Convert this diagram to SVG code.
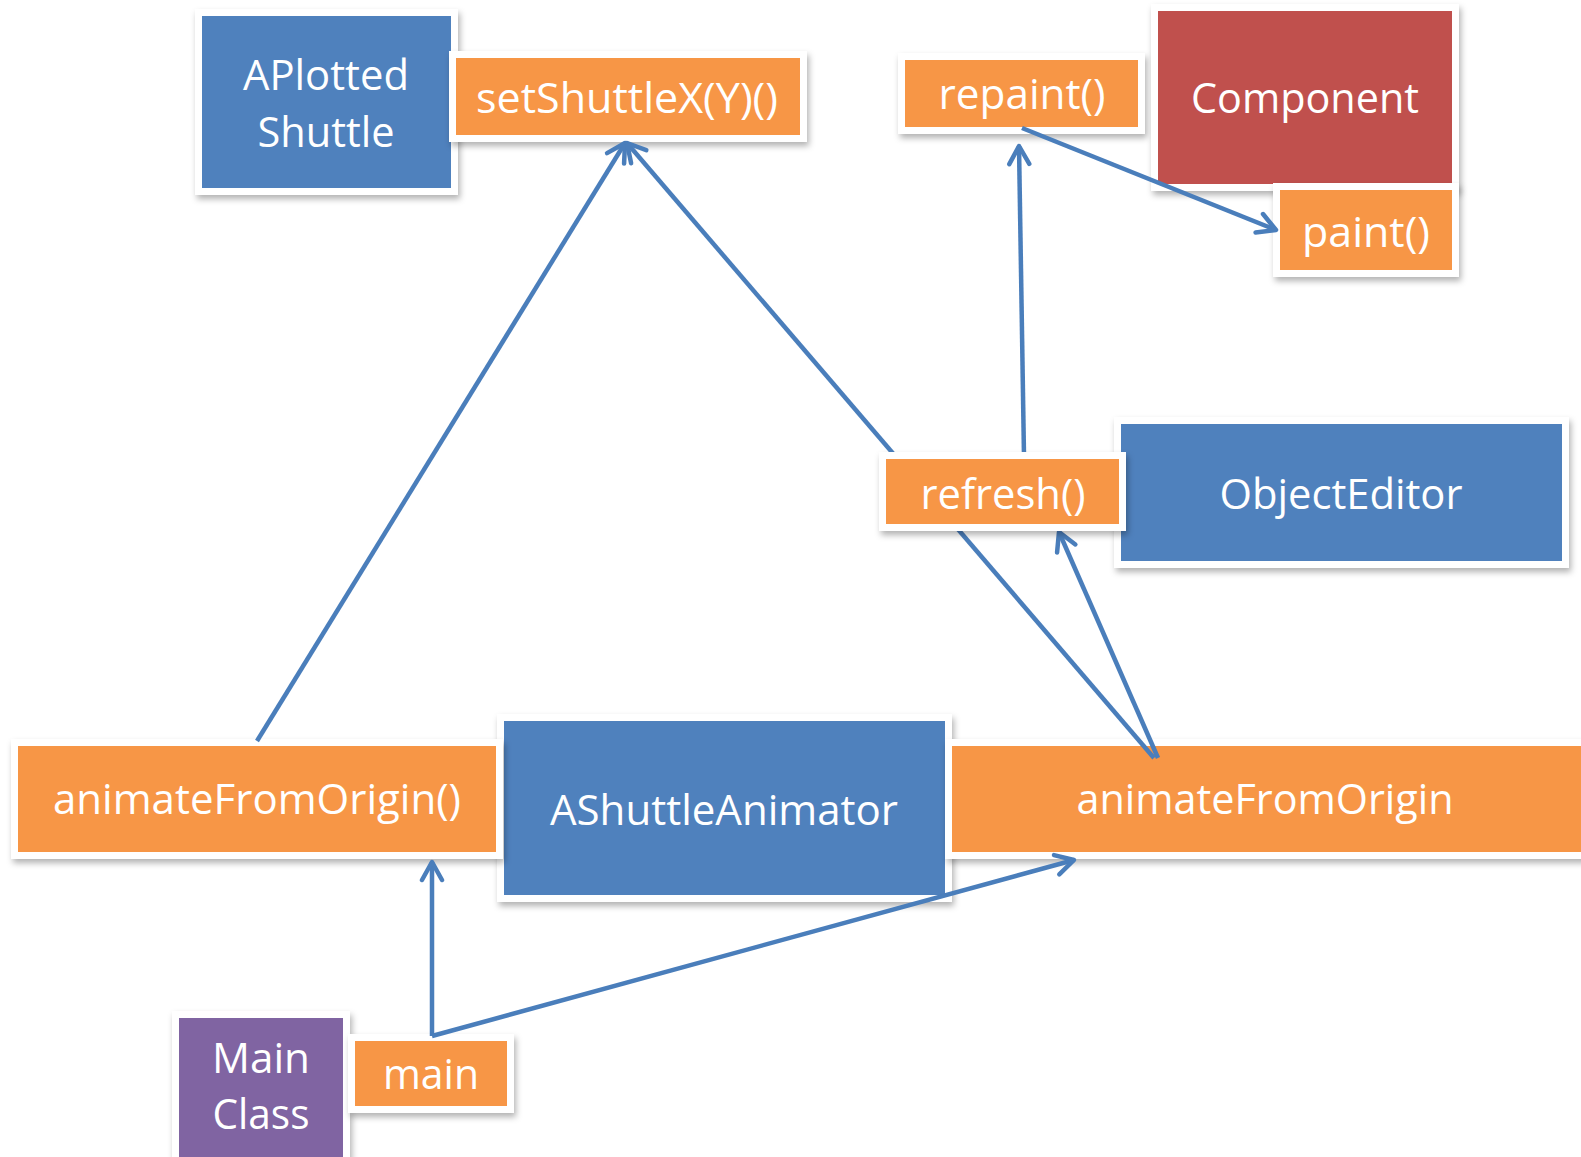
<svg xmlns="http://www.w3.org/2000/svg" width="1581" height="1157" viewBox="0 0 1581 1157">
<defs>
<filter id="sh" x="-10%" y="-10%" width="130%" height="140%">
<feDropShadow dx="2" dy="4" stdDeviation="3" flood-color="#000" flood-opacity="0.3"/>
</filter>
<marker id="arr" markerUnits="userSpaceOnUse" markerWidth="30" markerHeight="30" refX="24" refY="13" orient="auto">
<path d="M6,3 L24,13 L6,23" fill="none" stroke="#4A7EBB" stroke-width="4.5" stroke-linecap="round" stroke-linejoin="round"/>
</marker>
</defs>
<style>
.frame{fill:#fff;filter:url(#sh)}
.blue{fill:#4F81BD}
.orange{fill:#F79646}
.red{fill:#C0504D}
.purple{fill:#8064A2}
text{font-family:"Open Sans","Noto Sans",sans-serif;font-size:42px;fill:#fff;text-anchor:middle}
.c{stroke:#4A7EBB;stroke-width:4.5;fill:none}
</style>
<rect width="1581" height="1157" fill="#fff"/>
<g id="nodes">
<g id="aplotted">
<rect class="frame" x="195" y="9" width="263" height="186"/>
<rect class="blue" x="202" y="16" width="249" height="172"/>
<text x="326" y="90" textLength="166" lengthAdjust="spacingAndGlyphs">APlotted</text>
<text x="326" y="147" textLength="137" lengthAdjust="spacingAndGlyphs">Shuttle</text>
</g>
<g id="setshuttle">
<rect class="frame" x="449" y="51" width="358" height="91"/>
<rect class="orange" x="456" y="58" width="344" height="77"/>
<text x="627" y="113" textLength="302" lengthAdjust="spacingAndGlyphs">setShuttleX(Y)()</text>
</g>
<g id="repaint">
<rect class="frame" x="898" y="53" width="247" height="81"/>
<rect class="orange" x="905" y="60" width="233" height="67"/>
<text x="1022" y="109" textLength="167" lengthAdjust="spacingAndGlyphs">repaint()</text>
</g>
<g id="component">
<rect class="frame" x="1151" y="4" width="308" height="187"/>
<rect class="red" x="1158" y="11" width="294" height="173"/>
<text x="1305" y="113" textLength="228" lengthAdjust="spacingAndGlyphs">Component</text>
</g>
<g id="paint">
<rect class="frame" x="1273" y="183" width="186" height="94"/>
<rect class="orange" x="1280" y="190" width="172" height="80"/>
<text x="1366" y="247" textLength="128" lengthAdjust="spacingAndGlyphs">paint()</text>
</g>
<g id="objecteditor">
<rect class="frame" x="1114" y="417" width="455" height="151"/>
<rect class="blue" x="1121" y="424" width="441" height="137"/>
<text x="1341" y="509" textLength="243" lengthAdjust="spacingAndGlyphs">ObjectEditor</text>
</g>
<g id="ashuttleanimator">
<rect class="frame" x="497" y="714" width="455" height="188"/>
<rect class="blue" x="504" y="721" width="441" height="174"/>
<text x="724" y="825" textLength="348" lengthAdjust="spacingAndGlyphs">AShuttleAnimator</text>
</g>
<g id="animateleft">
<rect class="frame" x="11" y="739" width="492" height="120"/>
<rect class="orange" x="18" y="746" width="478" height="106"/>
<text x="257" y="814" textLength="408" lengthAdjust="spacingAndGlyphs">animateFromOrigin()</text>
</g>
<g id="animateright">
<rect class="frame" x="945" y="739" width="650" height="120"/>
<rect class="orange" x="952" y="746" width="635" height="106"/>
<text x="1265" y="814" textLength="377" lengthAdjust="spacingAndGlyphs">animateFromOrigin</text>
</g>
<g id="mainclass">
<rect class="frame" x="172" y="1011" width="178" height="150"/>
<rect class="purple" x="179" y="1018" width="164" height="140"/>
<text x="261" y="1073" textLength="98" lengthAdjust="spacingAndGlyphs">Main</text>
<text x="261" y="1129" textLength="97" lengthAdjust="spacingAndGlyphs">Class</text>
</g>
<g id="main">
<rect class="frame" x="348" y="1034" width="166" height="79"/>
<rect class="orange" x="355" y="1041" width="152" height="65"/>
<text x="431" y="1089" textLength="96" lengthAdjust="spacingAndGlyphs">main</text>
</g>
</g>
<g id="connectors">
<line class="c" x1="257" y1="741" x2="625" y2="143" marker-end="url(#arr)"/>
<line class="c" x1="1154" y1="758" x2="627" y2="143" marker-end="url(#arr)"/>
<line class="c" x1="1024" y1="456" x2="1019" y2="146" marker-end="url(#arr)"/>
<line class="c" x1="1022" y1="128" x2="1276" y2="230" marker-end="url(#arr)"/>
<line class="c" x1="1158" y1="758" x2="1059" y2="532" marker-end="url(#arr)"/>
<line class="c" x1="432" y1="1036" x2="432" y2="862" marker-end="url(#arr)"/>
<line class="c" x1="432" y1="1036" x2="1074" y2="860" marker-end="url(#arr)"/>
</g>
<g id="refresh">
<rect class="frame" x="879" y="452" width="247" height="79"/>
<rect class="orange" x="886" y="459" width="233" height="65"/>
<text x="1003" y="509" textLength="165" lengthAdjust="spacingAndGlyphs">refresh()</text>
</g>
</svg>
